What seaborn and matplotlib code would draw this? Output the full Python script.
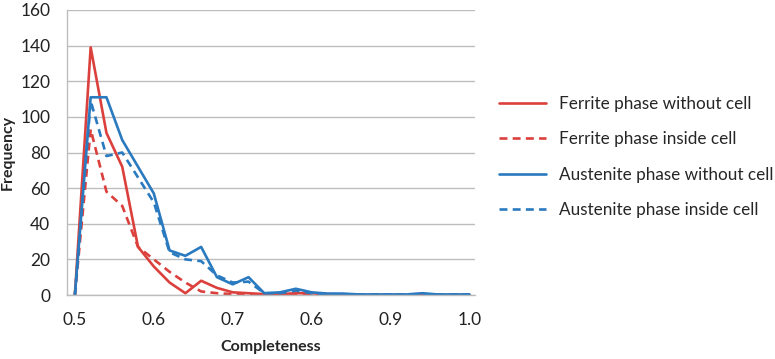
import numpy as np
import pandas as pd
import matplotlib
matplotlib.use("Agg")
import matplotlib.pyplot as plt
import seaborn as sns

# completeness bins (step 0.02)
completeness = [0.50, 0.52, 0.54, 0.56, 0.58, 0.60, 0.62, 0.64, 0.66, 0.68,
                0.70, 0.72, 0.74, 0.76, 0.78, 0.80, 0.82, 0.84, 0.86, 0.88,
                0.90, 0.92, 0.94, 0.96, 0.98, 1.00]

ferrite_without = [0, 139, 91, 72, 27, 16, 7, 1, 8, 4,
                   1.5, 1, 0.5, 0.5, 1, 1, 0.5, 0.3, 0, 0,
                   0, 0, 0, 0, 0, 0]
ferrite_inside = [0, 93, 58, 50, 27, 20, 13, 7, 2, 1,
                  0.5, 0.3, 0.2, 0.2, 0.2, 0.2, 0, 0, 0, 0,
                  0, 0, 0, 0, 0, 0]
austenite_without = [0, 111, 111, 87, 72, 57, 25, 22, 27, 10,
                     6, 10, 1, 1.5, 3.5, 1.5, 0.8, 0.8, 0.3, 0.3,
                     0.3, 0.3, 1, 0.3, 0.3, 0.3]
austenite_inside = [0, 109, 78, 80, 66, 52, 24, 20, 19, 11,
                    7, 7.5, 1, 1, 2.5, 1, 0.5, 0.3, 0.3, 0.3,
                    0.3, 0.3, 0.5, 0.3, 0.3, 0.3]

series_names = ["Ferrite phase without cell", "Ferrite phase inside cell",
                "Austenite phase without cell", "Austenite phase inside cell"]

tick_pos = [0.5, 0.6, 0.7, 0.8, 0.9, 1.0]
tick_labels = ["0.5", "0.6", "0.7", "0.6", "0.9", "1.0"]

red = "#DB403C"
blue = "#2A7AC0"

sns.set_style("white")
plt.rcParams['font.family'] = ['Lato', 'DejaVu Sans']

fig = plt.figure(figsize=(7.75, 3.59), dpi=100)
ax = fig.add_axes([67/775, 1-295/359, (475-67)/775, (295-10)/359])

styles = [(red, "-"), (red, (0, (3, 2))), (blue, "-"), (blue, (0, (3, 2)))]
values = [ferrite_without, ferrite_inside, austenite_without, austenite_inside]
for name, vals, (col, ls) in zip(series_names, values, styles):
    sns.lineplot(x=completeness, y=vals, ax=ax, color=col, linestyle=ls,
                 linewidth=1.9, label=name, legend=False)

ax.set_xlim(0.49, 1.007)
ax.set_ylim(0, 160)
ax.set_yticks(range(0, 161, 20))
ax.set_xticks(tick_pos)
ax.set_xticklabels(tick_labels)
ax.tick_params(axis='both', length=0, labelsize=12.5, colors="#222222")
ax.tick_params(axis='x', pad=12)
ax.tick_params(axis='y', pad=12)
ax.yaxis.grid(True, color="#BDBDBD", linewidth=1)
ax.set_axisbelow(True)
for s in ["top", "right"]:
    ax.spines[s].set_visible(False)
for s in ["left", "bottom"]:
    ax.spines[s].set_color("#BDBDBD")
    ax.spines[s].set_linewidth(1)

ax.set_xlabel("Completeness", fontsize=11.5, fontweight="bold", labelpad=9)
ax.set_ylabel("Frequency", fontsize=11.5, fontweight="bold", labelpad=4)

handles, labels = ax.get_legend_handles_labels()
fig.legend(handles, labels, loc="center left", bbox_to_anchor=(499/775, 1-157/359),
           frameon=False, fontsize=12.3, handlelength=2.75, handletextpad=0.76,
           labelspacing=1.12, borderpad=0, borderaxespad=0)

fig.savefig("out.png", dpi=100)
